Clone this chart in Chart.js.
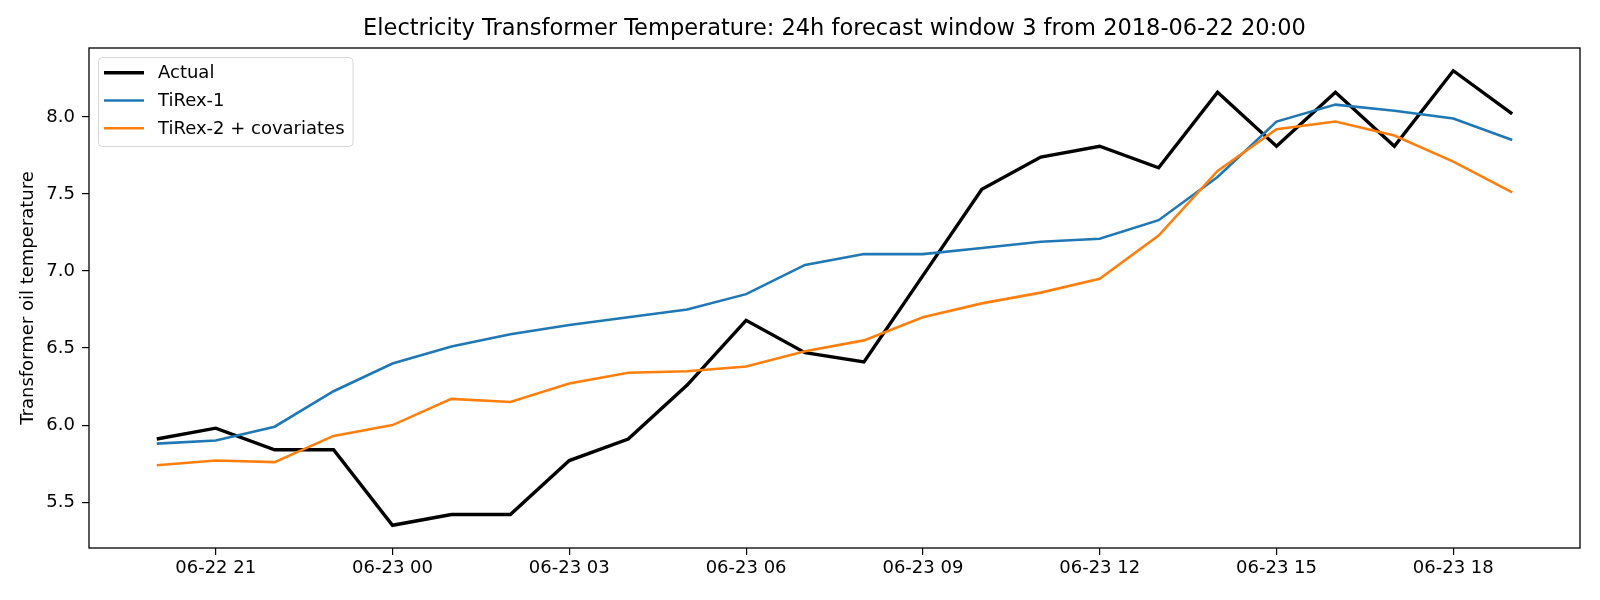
<!DOCTYPE html>
<html lang="en">
<head>
<meta charset="UTF-8">
<title>Electricity Transformer Temperature</title>
<script src="https://cdn.jsdelivr.net/npm/chart.js"></script>
<style>
    body { margin: 0; background: #fff; }
    #wrap { width: 1600px; height: 600px; }
</style>
</head>
<body>
<div id="wrap"><canvas id="chart" width="1600" height="600"></canvas></div>
<script>
    // hourly timestamps of the forecast window
    const hours = ['2018-06-22 20:00','2018-06-22 21:00','2018-06-22 22:00','2018-06-22 23:00',
        '2018-06-23 00:00','2018-06-23 01:00','2018-06-23 02:00','2018-06-23 03:00','2018-06-23 04:00',
        '2018-06-23 05:00','2018-06-23 06:00','2018-06-23 07:00','2018-06-23 08:00','2018-06-23 09:00',
        '2018-06-23 10:00','2018-06-23 11:00','2018-06-23 12:00','2018-06-23 13:00','2018-06-23 14:00',
        '2018-06-23 15:00','2018-06-23 16:00','2018-06-23 17:00','2018-06-23 18:00','2018-06-23 19:00'];
    const tickHours = ['2018-06-22 21:00','2018-06-23 00:00','2018-06-23 03:00','2018-06-23 06:00',
        '2018-06-23 09:00','2018-06-23 12:00','2018-06-23 15:00','2018-06-23 18:00'];
    const tickLabels = ['06-22 21','06-23 00','06-23 03','06-23 06','06-23 09','06-23 12','06-23 15','06-23 18'];
    const yTicks = [5.5, 6.0, 6.5, 7.0, 7.5, 8.0];

    const actual = [5.91, 5.98, 5.84, 5.84, 5.35, 5.42, 5.42, 5.77, 5.91, 6.26, 6.68, 6.47,
        6.41, 6.97, 7.53, 7.74, 7.81, 7.67, 8.16, 7.81, 8.16, 7.81, 8.30, 8.02];
    const tirex1 = [5.88, 5.90, 5.99, 6.22, 6.40, 6.51, 6.59, 6.65, 6.70, 6.75, 6.85, 7.04,
        7.11, 7.11, 7.15, 7.19, 7.21, 7.33, 7.61, 7.97, 8.08, 8.04, 7.99, 7.85];
    const tirex2 = [5.74, 5.77, 5.76, 5.93, 6.00, 6.17, 6.15, 6.27, 6.34, 6.35, 6.38, 6.48,
        6.55, 6.70, 6.79, 6.86, 6.95, 7.23, 7.65, 7.92, 7.97, 7.88, 7.71, 7.51];

    const FONT = "'DejaVu Sans', sans-serif";
    const titleText = 'Electricity Transformer Temperature: 24h forecast window 3 from 2018-06-22 20:00';

    function toPoints(vals) {
        return vals.map((v, i) => ({ x: i, y: v }));
    }
    const tickIdx = tickHours.map(h => hours.indexOf(h));

    // frame, title and legend drawn like matplotlib
    const decor = {
        id: 'decor',
        afterDraw(chart) {
            const ctx = chart.ctx, a = chart.chartArea;
            ctx.save();
            ctx.strokeStyle = '#000';
            ctx.lineWidth = 1.3;
            ctx.strokeRect(a.left, a.top, a.right - a.left, a.bottom - a.top);

            ctx.fillStyle = '#000';
            ctx.font = '22.5px ' + FONT;
            ctx.textAlign = 'center';
            ctx.textBaseline = 'middle';
            ctx.fillText(titleText, (a.left + a.right) / 2, 29);

            // legend box
            const bx = 98.5, by = 57.5, bw = 254.5, bh = 89;
            ctx.beginPath();
            ctx.roundRect(bx, by, bw, bh, 4);
            ctx.fillStyle = 'rgba(255,255,255,0.8)';
            ctx.fill();
            ctx.strokeStyle = '#d6d6d6';
            ctx.lineWidth = 1;
            ctx.stroke();
            ctx.font = '18px ' + FONT;
            ctx.textAlign = 'left';
            chart.data.datasets.forEach((ds, i) => {
                const y = 72.7 + i * 27.8;
                ctx.beginPath();
                ctx.moveTo(104, y);
                ctx.lineTo(144, y);
                ctx.strokeStyle = ds.borderColor;
                ctx.lineWidth = ds.borderWidth;
                ctx.stroke();
                ctx.fillStyle = '#000';
                ctx.fillText(ds.label, 158, y + 1);
            });
            ctx.restore();
        }
    };

    const lineStyle = { fill: false, tension: 0, pointRadius: 0, pointHoverRadius: 0 };

    new Chart(document.getElementById('chart'), {
        type: 'line',
        data: {
            datasets: [
                { label: 'Actual', data: toPoints(actual), borderColor: '#000000', borderWidth: 3.4, order: 3, ...lineStyle },
                { label: 'TiRex-1', data: toPoints(tirex1), borderColor: '#1f77b4', borderWidth: 2.6, order: 2, ...lineStyle },
                { label: 'TiRex-2 + covariates', data: toPoints(tirex2), borderColor: '#ff7f0e', borderWidth: 2.6, order: 1, ...lineStyle }
            ]
        },
        options: {
            responsive: false,
            animation: false,
            events: [],
            layout: { padding: { top: 48, right: 20, left: 0, bottom: 0 } },
            plugins: { legend: { display: false }, title: { display: false }, tooltip: { enabled: false } },
            scales: {
                x: {
                    type: 'linear',
                    min: -1.15,
                    max: 24.15,
                    afterBuildTicks: s => { s.ticks = tickIdx.map(v => ({ value: v })); },
                    afterFit: s => { s.height = 52; },
                    ticks: {
                        autoSkip: false,
                        maxRotation: 0,
                        padding: 3,
                        color: '#000',
                        font: { family: FONT, size: 18 },
                        callback: v => tickLabels[tickIdx.indexOf(v)]
                    },
                    grid: { drawOnChartArea: false, drawTicks: true, tickLength: 7, color: '#000', lineWidth: 1.2 },
                    border: { display: false }
                },
                y: {
                    min: 5.2025,
                    max: 8.4475,
                    afterBuildTicks: s => { s.ticks = yTicks.map(v => ({ value: v })); },
                    afterFit: s => { s.width = 89; },
                    ticks: {
                        padding: 7,
                        color: '#000',
                        font: { family: FONT, size: 18 },
                        callback: v => v.toFixed(1)
                    },
                    grid: { drawOnChartArea: false, drawTicks: true, tickLength: 7, color: '#000', lineWidth: 1.2 },
                    border: { display: false },
                    title: {
                        display: true,
                        text: 'Transformer oil temperature',
                        color: '#000',
                        font: { family: FONT, size: 18 },
                        padding: { top: 18, bottom: 0 }
                    }
                }
            }
        },
        plugins: [decor]
    });
</script>
</body>
</html>
